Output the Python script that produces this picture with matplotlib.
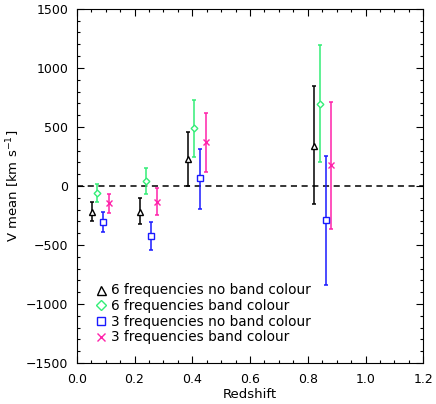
import numpy as np
import matplotlib
matplotlib.use("Agg")
import matplotlib.pyplot as plt
from matplotlib.lines import Line2D
from matplotlib.ticker import MultipleLocator

plt.rcParams['font.family'] = ['DejaVu Sans']
plt.rcParams['font.size'] = 9

# Mean velocity vs redshift for four frequency / band-colour setups
labels = ["6 frequencies no band colour", "6 frequencies band colour",
          "3 frequencies no band colour", "3 frequencies band colour"]

z_6nb = [0.052, 0.219, 0.386, 0.821]
v_6nb = [-218, -218, 226, 339]
hi_6nb = [-133, -104, 460, 847]
lo_6nb = [-294, -322, 0, -150]

z_6b = [0.071, 0.240, 0.406, 0.841]
v_6b = [-57, 42, 492, 697]
hi_6b = [17, 153, 729, 1195]
lo_6b = [-138, -68, 246, 201]

z_3nb = [0.091, 0.258, 0.427, 0.862]
v_3nb = [-308, -424, 65, -291]
hi_3nb = [-223, -303, 314, 254]
lo_3nb = [-392, -542, -192, -839]

z_3b = [0.112, 0.279, 0.446, 0.880]
v_3b = [-147, -133, 370, 178]
hi_3b = [-65, -17, 619, 714]
lo_3b = [-231, -246, 119, -362]

series = [
    (z_6nb, v_6nb, hi_6nb, lo_6nb, 'black', '^'),
    (z_6b, v_6b, hi_6b, lo_6b, '#33ee77', 'D'),
    (z_3nb, v_3nb, hi_3nb, lo_3nb, '#1a1aff', 's'),
    (z_3b, v_3b, hi_3b, lo_3b, '#ff22aa', 'x'),
]
msizes = {'^': 4.8, 'D': 3.4, 's': 4.3, 'x': 3.8}

fig = plt.figure(figsize=(4.36, 4.04), dpi=100)
ax = fig.add_axes([0.176, 0.1015, 0.795, 0.8765])

ax.axhline(0, color='black', ls=(0, (4, 3)), lw=1.1, zorder=1)

handles = []
for (z, v, hi, lo, col, mk), lab in zip(series, labels):
    z = np.array(z)
    v = np.array(v)
    yerr = [v - np.array(lo), np.array(hi) - v]
    ax.errorbar(z, v, yerr=yerr, fmt='none', ecolor=col, elinewidth=1.1,
                capsize=1.6, capthick=1.1, zorder=2)
    ax.plot(z, v, ls='none', marker=mk, ms=msizes[mk], mec=col,
            mfc='white' if mk != 'x' else col, mew=1.0, zorder=3)
    handles.append(Line2D([], [], ls='none', marker=mk, ms=msizes[mk] * 1.35,
                          mec=col, mfc='none', mew=1.0, label=lab))

ax.set_xlim(0.0, 1.2)
ax.set_ylim(-1500, 1500)
ax.xaxis.set_major_locator(MultipleLocator(0.2))
ax.xaxis.set_minor_locator(MultipleLocator(0.05))
ax.yaxis.set_major_locator(MultipleLocator(500))
ax.yaxis.set_minor_locator(MultipleLocator(100))
ax.xaxis.set_major_formatter(matplotlib.ticker.FormatStrFormatter('%.1f'))
ax.tick_params(which='both', direction='in', top=True, right=True, width=0.8)
ax.tick_params(which='major', length=5, labelsize=9)
ax.tick_params(which='minor', length=2.5)
ax.tick_params(axis='x', which='major', pad=7)
ax.tick_params(axis='y', which='major', pad=6)
for sp in ax.spines.values():
    sp.set_linewidth(0.8)

ax.set_xlabel("Redshift", fontsize=9.5, labelpad=2)
ax.set_ylabel(r"V mean [km s$^{-1}$]", fontsize=9.5, labelpad=3)

ax.legend(handles=handles, loc='upper left', bbox_to_anchor=(0.038, 0.24),
          frameon=False, handlelength=0.8, handletextpad=0.35, labelspacing=0.12,
          borderaxespad=0, fontsize=9.8)

fig.savefig("out.png", dpi=100)
